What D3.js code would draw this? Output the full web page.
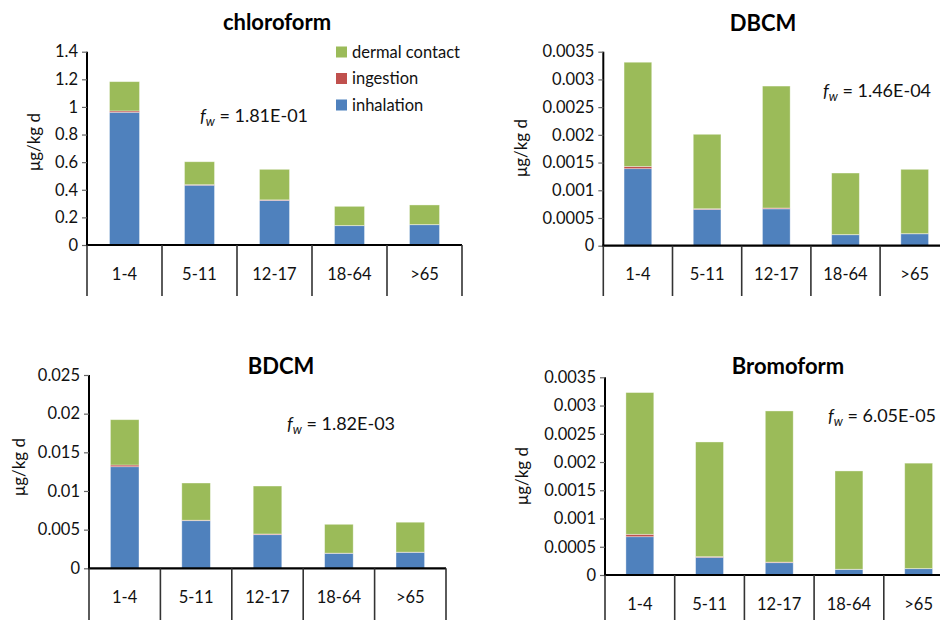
<!DOCTYPE html>
<html><head><meta charset="utf-8">
<script src="https://cdn.jsdelivr.net/npm/d3@7"></script>
<style>body{margin:0;background:#fff;} text{font-family:Lato,"Open Sans",sans-serif;}</style>
</head><body>
<svg id="c" width="940" height="621"></svg>
<script>
const categories = ["1-4","5-11","12-17","18-64",">65"];
const seriesNames = ["inhalation","ingestion","dermal contact"];
const colors = {"inhalation":"#4F81BD","ingestion":"#C0504D","dermal contact":"#9BBB59"};

const chloroformInhalation = [0.961, 0.433, 0.323, 0.140, 0.147];
const chloroformIngestion  = [0.010, 0.004, 0.004, 0.001, 0.001];
const chloroformDermal     = [0.212, 0.166, 0.221, 0.139, 0.142];
const chloroformTicks = [0,0.2,0.4,0.6,0.8,1,1.2,1.4];

const dbcmInhalation = [0.00139, 0.000655, 0.000665, 0.000198, 0.000215];
const dbcmIngestion  = [0.00004, 0.000012, 0.000015, 0.000003, 0.000003];
const dbcmDermal     = [0.00188, 0.001343, 0.0022, 0.00111, 0.00116];
const dbcmTicks = [0,0.0005,0.001,0.0015,0.002,0.0025,0.003,0.0035];

const bdcmInhalation = [0.01314, 0.00616, 0.00435, 0.00194, 0.00207];
const bdcmIngestion  = [0.00022, 0.00006, 0.00009, 0.00002, 0.00002];
const bdcmDermal     = [0.00586, 0.00481, 0.0062, 0.00373, 0.00387];
const bdcmTicks = [0,0.005,0.01,0.015,0.02,0.025];

const bromoformInhalation = [0.000678, 0.000313, 0.000218, 0.0001, 0.000112];
const bromoformIngestion  = [0.000042, 0.000012, 0.000010, 0.000002, 0.000002];
const bromoformDermal     = [0.00251, 0.00203, 0.002676, 0.00174, 0.001866];
const bromoformTicks = [0,0.0005,0.001,0.0015,0.002,0.0025,0.003,0.0035];

const titles = ["chloroform","DBCM","BDCM","Bromoform"];
const fwValues = ["1.81E-01","1.46E-04","1.82E-03","6.05E-05"];
const yLabel = "μg/kg d";

const panels = [
  {title:titles[0], fw:fwValues[0], inh:chloroformInhalation, ing:chloroformIngestion, der:chloroformDermal, ticks:chloroformTicks, fmt:d=>String(d),
   x0:87, x1:462, yTop:51.7, yZero:245, catBottom:296, titleX:277, titleY:30, fwX:200, fwY:122, ylX:40, ylY:142, catY:280, legend:true},
  {title:titles[1], fw:fwValues[1], inh:dbcmInhalation, ing:dbcmIngestion, der:dbcmDermal, ticks:dbcmTicks, fmt:d=>String(d),
   x0:603.3, x1:949.3, yTop:51.7, yZero:245.7, catBottom:296, titleX:763, titleY:30.5, fwX:823, fwY:97, ylX:527, ylY:148, catY:280},
  {title:titles[2], fw:fwValues[2], inh:bdcmInhalation, ing:bdcmIngestion, der:bdcmDermal, ticks:bdcmTicks, fmt:d=>String(d),
   x0:89, x1:446, yTop:375, yZero:568.3, catBottom:620, titleX:281, titleY:374, fwX:287, fwY:430, ylX:25, ylY:467, catY:603},
  {title:titles[3], fw:fwValues[3], inh:bromoformInhalation, ing:bromoformIngestion, der:bromoformDermal, ticks:bromoformTicks, fmt:d=>String(d),
   x0:605, x1:953.5, yTop:377.3, yZero:575, catBottom:620, titleX:788, titleY:374, fwX:828, fwY:422, ylX:528, ylY:476, catY:610}
];

const svg = d3.select("#c");

panels.forEach(p => {
  const g = svg.append("g");
  const x = d3.scaleBand().domain(categories).range([p.x0, p.x1]).padding(0);
  const yMax = p.ticks[p.ticks.length-1];
  const y = d3.scaleLinear().domain([0, yMax]).range([p.yZero, p.yTop]);

  const rows = categories.map((c,i)=>({cat:c, "inhalation":p.inh[i], "ingestion":p.ing[i], "dermal contact":p.der[i]}));
  const stack = d3.stack().keys(seriesNames)(rows);

  const bw = x.bandwidth()*0.4;
  stack.forEach(layer => {
    g.append("g").selectAll("rect").data(layer).join("rect")
      .attr("x", d => x(d.data.cat) + (x.bandwidth()-bw)/2)
      .attr("width", bw)
      .attr("y", d => y(d[1]))
      .attr("height", d => Math.max(0, y(d[0]) - y(d[1])))
      .attr("fill", colors[layer.key])
      .attr("stroke", "#ffffff").attr("stroke-opacity", 0.45).attr("stroke-width", 0.8);
  });

  // y axis
  const ya = d3.axisLeft(y).tickValues(p.ticks).tickFormat(p.fmt).tickSize(5).tickPadding(4);
  const yg = g.append("g").attr("transform", `translate(${p.x0},0)`).call(ya);
  yg.select(".domain").attr("stroke","#000").attr("stroke-width",2).attr("d", `M0,${p.yTop}V${p.yZero}`);
  yg.selectAll(".tick line").attr("stroke","#666").attr("stroke-width",1.2);
  yg.selectAll(".tick text").attr("font-size",16.5).attr("fill","#111").style("font-family","Lato");

  // x axis line
  g.append("line").attr("x1", p.x0-1).attr("x2", p.x1).attr("y1", p.yZero).attr("y2", p.yZero)
    .attr("stroke","#000").attr("stroke-width",2.2);
  // category separators
  const bounds = categories.map(c => x(c)).concat([p.x1]);
  g.selectAll("line.sep").data(bounds).join("line").attr("class","sep")
    .attr("x1", d=>d).attr("x2", d=>d).attr("y1", p.yZero).attr("y2", p.catBottom)
    .attr("stroke","#333").attr("stroke-width",1.6);
  g.selectAll("text.cat").data(categories).join("text").attr("class","cat")
    .attr("x", d => x(d)+x.bandwidth()/2).attr("y", p.catY)
    .attr("text-anchor","middle").attr("font-size",16.5).attr("fill","#111").text(d=>d);

  // title
  g.append("text").attr("x", p.titleX).attr("y", p.titleY).attr("text-anchor","middle")
    .attr("font-size",22).attr("font-weight","bold").attr("fill","#000").text(p.title);

  // y label
  g.append("text").attr("transform", `translate(${p.ylX},${p.ylY}) rotate(-90)`)
    .attr("text-anchor","middle").attr("font-size",17).attr("fill","#111").text(yLabel);

  // f_w annotation
  const t = g.append("text").attr("x", p.fwX).attr("y", p.fwY).attr("font-size",18).attr("fill","#111");
  t.append("tspan").attr("font-style","italic").text("f");
  t.append("tspan").attr("font-style","italic").attr("font-size",12.5).attr("dy",4).text("w");
  t.append("tspan").attr("dy",-4).text(" = " + p.fw);

  if (p.legend) {
    const legendOrder = ["dermal contact","ingestion","inhalation"];
    const lg = g.append("g");
    legendOrder.forEach((k,i) => {
      const cy = 52 + i*26.5;
      lg.append("rect").attr("x",336).attr("y",cy-5.5).attr("width",11).attr("height",11).attr("fill",colors[k]);
      lg.append("text").attr("x",352).attr("y",cy+5.5).attr("font-size",16.5).attr("fill","#111").text(k);
    });
  }
});
</script>
</body></html>
